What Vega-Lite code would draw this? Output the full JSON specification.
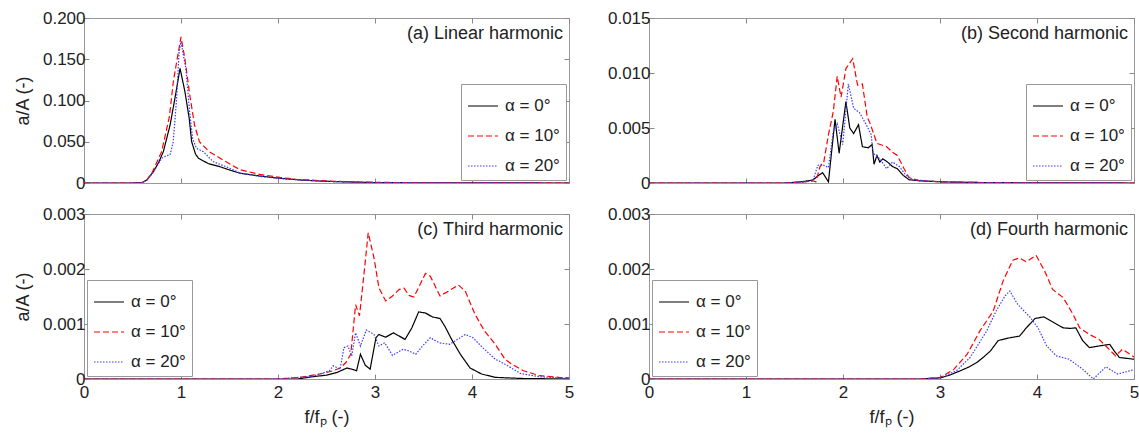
{
  "$schema": "https://vega.github.io/schema/vega-lite/v6.json",
  "background": "white",
  "padding": {"left": 13, "top": 8, "right": 3, "bottom": 3},
  "config": {
    "font": "Liberation Sans",
    "view": {"stroke": "#999", "strokeWidth": 1},
    "axis": {"labelFont": "Liberation Sans", "labelFontSize": 17, "labelColor": "#222", "titleFont": "Liberation Sans", "titleFontSize": 18, "titleColor": "#222", "titleFontWeight": "normal", "grid": false, "domain": false, "tickColor": "#888", "tickSize": -5, "labelFlush": false, "labelOverlap": false, "labelPadding": 4},
    "legend": {"orient": "bottom-right", "offset": 3, "symbolType": "stroke", "symbolSize": 900, "symbolStrokeWidth": 1.2, "strokeColor": "#999", "fillColor": "white", "padding": 6, "rowPadding": 6, "labelOffset": 6, "labelFont": "Liberation Sans", "labelFontSize": 17, "labelColor": "#222"}
  },
  "datasets": {
    "d": [
      {"p":"a","s":"0","f":0,"v":0},{"p":"a","s":"0","f":0.5,"v":0},{"p":"a","s":"0","f":0.6,"v":0.0005},{"p":"a","s":"0","f":0.65,"v":0.004},{"p":"a","s":"0","f":0.715,"v":0.0137},{"p":"a","s":"0","f":0.77,"v":0.025},{"p":"a","s":"0","f":0.818,"v":0.038},{"p":"a","s":"0","f":0.887,"v":0.07},{"p":"a","s":"0","f":0.938,"v":0.103},{"p":"a","s":"0","f":0.97,"v":0.125},{"p":"a","s":"0","f":0.99,"v":0.139},{"p":"a","s":"0","f":1.04,"v":0.111},{"p":"a","s":"0","f":1.085,"v":0.078},{"p":"a","s":"0","f":1.11,"v":0.05},{"p":"a","s":"0","f":1.15,"v":0.035},{"p":"a","s":"0","f":1.18,"v":0.03},{"p":"a","s":"0","f":1.28,"v":0.0236},{"p":"a","s":"0","f":1.4,"v":0.0198},{"p":"a","s":"0","f":1.5,"v":0.0158},{"p":"a","s":"0","f":1.61,"v":0.0118},{"p":"a","s":"0","f":1.81,"v":0.0085},{"p":"a","s":"0","f":2.02,"v":0.0057},{"p":"a","s":"0","f":2.25,"v":0.0035},{"p":"a","s":"0","f":2.5,"v":0.002},{"p":"a","s":"0","f":2.8,"v":0.001},{"p":"a","s":"0","f":3,"v":0.0006},{"p":"a","s":"0","f":3.5,"v":0.0002},{"p":"a","s":"0","f":4,"v":0.0001},{"p":"a","s":"0","f":5,"v":0},
      {"p":"a","s":"10","f":0,"v":0},{"p":"a","s":"10","f":0.5,"v":0},{"p":"a","s":"10","f":0.6,"v":0.0005},{"p":"a","s":"10","f":0.65,"v":0.004},{"p":"a","s":"10","f":0.7,"v":0.012},{"p":"a","s":"10","f":0.8,"v":0.038},{"p":"a","s":"10","f":0.88,"v":0.08},{"p":"a","s":"10","f":0.921,"v":0.123},{"p":"a","s":"10","f":0.96,"v":0.15},{"p":"a","s":"10","f":1.0,"v":0.177},{"p":"a","s":"10","f":1.04,"v":0.151},{"p":"a","s":"10","f":1.09,"v":0.107},{"p":"a","s":"10","f":1.14,"v":0.07},{"p":"a","s":"10","f":1.19,"v":0.05},{"p":"a","s":"10","f":1.29,"v":0.038},{"p":"a","s":"10","f":1.46,"v":0.026},{"p":"a","s":"10","f":1.61,"v":0.016},{"p":"a","s":"10","f":1.81,"v":0.0105},{"p":"a","s":"10","f":2.02,"v":0.0068},{"p":"a","s":"10","f":2.19,"v":0.0044},{"p":"a","s":"10","f":2.5,"v":0.0025},{"p":"a","s":"10","f":2.8,"v":0.0012},{"p":"a","s":"10","f":3,"v":0.0008},{"p":"a","s":"10","f":3.5,"v":0.0003},{"p":"a","s":"10","f":4,"v":0.0002},{"p":"a","s":"10","f":5,"v":0.0001},
      {"p":"a","s":"20","f":0,"v":0},{"p":"a","s":"20","f":0.5,"v":0},{"p":"a","s":"20","f":0.6,"v":0.0005},{"p":"a","s":"20","f":0.65,"v":0.004},{"p":"a","s":"20","f":0.715,"v":0.013},{"p":"a","s":"20","f":0.8,"v":0.03},{"p":"a","s":"20","f":0.85,"v":0.033},{"p":"a","s":"20","f":0.887,"v":0.034},{"p":"a","s":"20","f":0.92,"v":0.05},{"p":"a","s":"20","f":0.955,"v":0.103},{"p":"a","s":"20","f":0.98,"v":0.159},{"p":"a","s":"20","f":1.0,"v":0.171},{"p":"a","s":"20","f":1.05,"v":0.139},{"p":"a","s":"20","f":1.09,"v":0.085},{"p":"a","s":"20","f":1.12,"v":0.054},{"p":"a","s":"20","f":1.16,"v":0.042},{"p":"a","s":"20","f":1.23,"v":0.038},{"p":"a","s":"20","f":1.33,"v":0.026},{"p":"a","s":"20","f":1.5,"v":0.018},{"p":"a","s":"20","f":1.61,"v":0.012},{"p":"a","s":"20","f":1.81,"v":0.008},{"p":"a","s":"20","f":2.02,"v":0.0055},{"p":"a","s":"20","f":2.25,"v":0.0035},{"p":"a","s":"20","f":2.5,"v":0.002},{"p":"a","s":"20","f":2.8,"v":0.001},{"p":"a","s":"20","f":3,"v":0.0006},{"p":"a","s":"20","f":3.5,"v":0.0002},{"p":"a","s":"20","f":4,"v":0.0001},{"p":"a","s":"20","f":5,"v":0},

      {"p":"b","s":"0","f":0,"v":0},{"p":"b","s":"0","f":1.4,"v":0},{"p":"b","s":"0","f":1.56,"v":0.0001},{"p":"b","s":"0","f":1.69,"v":0.00027},{"p":"b","s":"0","f":1.74,"v":0.00064},{"p":"b","s":"0","f":1.79,"v":0.00094},{"p":"b","s":"0","f":1.85,"v":0.0001},{"p":"b","s":"0","f":1.918,"v":0.0058},{"p":"b","s":"0","f":1.96,"v":0.0027},{"p":"b","s":"0","f":2.03,"v":0.0074},{"p":"b","s":"0","f":2.07,"v":0.005},{"p":"b","s":"0","f":2.11,"v":0.0045},{"p":"b","s":"0","f":2.16,"v":0.0053},{"p":"b","s":"0","f":2.2,"v":0.0033},{"p":"b","s":"0","f":2.26,"v":0.0032},{"p":"b","s":"0","f":2.3,"v":0.0035},{"p":"b","s":"0","f":2.32,"v":0.0017},{"p":"b","s":"0","f":2.35,"v":0.0025},{"p":"b","s":"0","f":2.38,"v":0.0019},{"p":"b","s":"0","f":2.41,"v":0.0022},{"p":"b","s":"0","f":2.46,"v":0.0019},{"p":"b","s":"0","f":2.51,"v":0.0015},{"p":"b","s":"0","f":2.56,"v":0.0013},{"p":"b","s":"0","f":2.62,"v":0.0007},{"p":"b","s":"0","f":2.68,"v":0.0003},{"p":"b","s":"0","f":2.79,"v":0.0002},{"p":"b","s":"0","f":3.03,"v":0.0001},{"p":"b","s":"0","f":3.5,"v":0.00003},{"p":"b","s":"0","f":5,"v":0},
      {"p":"b","s":"10","f":0,"v":0},{"p":"b","s":"10","f":1.4,"v":0},{"p":"b","s":"10","f":1.6,"v":0.0001},{"p":"b","s":"10","f":1.69,"v":0.0002},{"p":"b","s":"10","f":1.72,"v":0.0001},{"p":"b","s":"10","f":1.763,"v":0.0015},{"p":"b","s":"10","f":1.8,"v":0.0018},{"p":"b","s":"10","f":1.85,"v":0.0044},{"p":"b","s":"10","f":1.9,"v":0.0065},{"p":"b","s":"10","f":1.94,"v":0.0097},{"p":"b","s":"10","f":1.98,"v":0.0078},{"p":"b","s":"10","f":2.03,"v":0.0104},{"p":"b","s":"10","f":2.1,"v":0.0113},{"p":"b","s":"10","f":2.15,"v":0.0089},{"p":"b","s":"10","f":2.2,"v":0.009},{"p":"b","s":"10","f":2.25,"v":0.006},{"p":"b","s":"10","f":2.28,"v":0.0054},{"p":"b","s":"10","f":2.35,"v":0.0036},{"p":"b","s":"10","f":2.45,"v":0.0033},{"p":"b","s":"10","f":2.51,"v":0.0028},{"p":"b","s":"10","f":2.56,"v":0.0025},{"p":"b","s":"10","f":2.63,"v":0.0013},{"p":"b","s":"10","f":2.68,"v":0.0005},{"p":"b","s":"10","f":2.79,"v":0.0002},{"p":"b","s":"10","f":3.03,"v":0.0001},{"p":"b","s":"10","f":3.5,"v":0.00003},{"p":"b","s":"10","f":5,"v":0},
      {"p":"b","s":"20","f":0,"v":0},{"p":"b","s":"20","f":1.4,"v":0},{"p":"b","s":"20","f":1.6,"v":0.0001},{"p":"b","s":"20","f":1.69,"v":0.0002},{"p":"b","s":"20","f":1.74,"v":0.0016},{"p":"b","s":"20","f":1.78,"v":0.0017},{"p":"b","s":"20","f":1.85,"v":0.0014},{"p":"b","s":"20","f":1.9,"v":0.0047},{"p":"b","s":"20","f":1.94,"v":0.0054},{"p":"b","s":"20","f":1.997,"v":0.0035},{"p":"b","s":"20","f":2.055,"v":0.009},{"p":"b","s":"20","f":2.11,"v":0.0068},{"p":"b","s":"20","f":2.17,"v":0.0064},{"p":"b","s":"20","f":2.24,"v":0.0053},{"p":"b","s":"20","f":2.29,"v":0.0044},{"p":"b","s":"20","f":2.31,"v":0.0027},{"p":"b","s":"20","f":2.38,"v":0.0022},{"p":"b","s":"20","f":2.45,"v":0.0013},{"p":"b","s":"20","f":2.51,"v":0.0019},{"p":"b","s":"20","f":2.58,"v":0.0015},{"p":"b","s":"20","f":2.65,"v":0.0007},{"p":"b","s":"20","f":2.72,"v":0.0003},{"p":"b","s":"20","f":2.85,"v":0.0002},{"p":"b","s":"20","f":3.03,"v":0.0001},{"p":"b","s":"20","f":3.5,"v":0.00003},{"p":"b","s":"20","f":5,"v":0},

      {"p":"c","s":"0","f":0,"v":0},{"p":"c","s":"0","f":2.2,"v":0},{"p":"c","s":"0","f":2.35,"v":0.00004},{"p":"c","s":"0","f":2.5,"v":0.00007},{"p":"c","s":"0","f":2.61,"v":0.00012},{"p":"c","s":"0","f":2.71,"v":0.0002},{"p":"c","s":"0","f":2.76,"v":0.00018},{"p":"c","s":"0","f":2.81,"v":0.00015},{"p":"c","s":"0","f":2.85,"v":0.00045},{"p":"c","s":"0","f":2.9,"v":0.00025},{"p":"c","s":"0","f":2.95,"v":0.00018},{"p":"c","s":"0","f":3.01,"v":0.00075},{"p":"c","s":"0","f":3.04,"v":0.00081},{"p":"c","s":"0","f":3.11,"v":0.00076},{"p":"c","s":"0","f":3.19,"v":0.00084},{"p":"c","s":"0","f":3.25,"v":0.00078},{"p":"c","s":"0","f":3.31,"v":0.00072},{"p":"c","s":"0","f":3.38,"v":0.00093},{"p":"c","s":"0","f":3.45,"v":0.00122},{"p":"c","s":"0","f":3.52,"v":0.0012},{"p":"c","s":"0","f":3.59,"v":0.00113},{"p":"c","s":"0","f":3.67,"v":0.0011},{"p":"c","s":"0","f":3.72,"v":0.00096},{"p":"c","s":"0","f":3.79,"v":0.00072},{"p":"c","s":"0","f":3.88,"v":0.00045},{"p":"c","s":"0","f":3.98,"v":0.0002},{"p":"c","s":"0","f":4.1,"v":0.00009},{"p":"c","s":"0","f":4.24,"v":0.00003},{"p":"c","s":"0","f":4.5,"v":0.00001},{"p":"c","s":"0","f":5,"v":0},
      {"p":"c","s":"10","f":0,"v":0},{"p":"c","s":"10","f":2.0,"v":0},{"p":"c","s":"10","f":2.23,"v":0.00003},{"p":"c","s":"10","f":2.46,"v":0.0001},{"p":"c","s":"10","f":2.57,"v":0.00015},{"p":"c","s":"10","f":2.64,"v":0.0002},{"p":"c","s":"10","f":2.7,"v":0.0003},{"p":"c","s":"10","f":2.75,"v":0.00045},{"p":"c","s":"10","f":2.8,"v":0.00135},{"p":"c","s":"10","f":2.84,"v":0.00115},{"p":"c","s":"10","f":2.88,"v":0.0018},{"p":"c","s":"10","f":2.93,"v":0.00266},{"p":"c","s":"10","f":2.99,"v":0.0022},{"p":"c","s":"10","f":3.04,"v":0.00166},{"p":"c","s":"10","f":3.11,"v":0.00142},{"p":"c","s":"10","f":3.18,"v":0.00151},{"p":"c","s":"10","f":3.25,"v":0.00163},{"p":"c","s":"10","f":3.3,"v":0.00165},{"p":"c","s":"10","f":3.35,"v":0.00152},{"p":"c","s":"10","f":3.4,"v":0.00149},{"p":"c","s":"10","f":3.46,"v":0.0017},{"p":"c","s":"10","f":3.52,"v":0.00192},{"p":"c","s":"10","f":3.57,"v":0.00187},{"p":"c","s":"10","f":3.67,"v":0.00151},{"p":"c","s":"10","f":3.76,"v":0.0016},{"p":"c","s":"10","f":3.86,"v":0.00171},{"p":"c","s":"10","f":3.93,"v":0.0016},{"p":"c","s":"10","f":4.03,"v":0.00118},{"p":"c","s":"10","f":4.13,"v":0.00087},{"p":"c","s":"10","f":4.24,"v":0.00063},{"p":"c","s":"10","f":4.34,"v":0.00036},{"p":"c","s":"10","f":4.41,"v":0.00027},{"p":"c","s":"10","f":4.53,"v":0.00015},{"p":"c","s":"10","f":4.7,"v":0.00006},{"p":"c","s":"10","f":4.9,"v":0.00003},{"p":"c","s":"10","f":5,"v":0.00002},
      {"p":"c","s":"20","f":0,"v":0},{"p":"c","s":"20","f":2.0,"v":0},{"p":"c","s":"20","f":2.36,"v":0.00005},{"p":"c","s":"20","f":2.53,"v":0.00015},{"p":"c","s":"20","f":2.57,"v":0.00024},{"p":"c","s":"20","f":2.64,"v":0.00018},{"p":"c","s":"20","f":2.68,"v":0.00057},{"p":"c","s":"20","f":2.72,"v":0.0006},{"p":"c","s":"20","f":2.76,"v":0.00042},{"p":"c","s":"20","f":2.8,"v":0.00084},{"p":"c","s":"20","f":2.85,"v":0.0006},{"p":"c","s":"20","f":2.91,"v":0.00089},{"p":"c","s":"20","f":2.99,"v":0.00081},{"p":"c","s":"20","f":3.04,"v":0.0006},{"p":"c","s":"20","f":3.1,"v":0.00066},{"p":"c","s":"20","f":3.18,"v":0.00043},{"p":"c","s":"20","f":3.29,"v":0.00054},{"p":"c","s":"20","f":3.35,"v":0.00051},{"p":"c","s":"20","f":3.42,"v":0.00045},{"p":"c","s":"20","f":3.49,"v":0.0006},{"p":"c","s":"20","f":3.57,"v":0.00075},{"p":"c","s":"20","f":3.66,"v":0.00066},{"p":"c","s":"20","f":3.77,"v":0.00063},{"p":"c","s":"20","f":3.93,"v":0.00081},{"p":"c","s":"20","f":4.01,"v":0.00075},{"p":"c","s":"20","f":4.11,"v":0.00057},{"p":"c","s":"20","f":4.24,"v":0.00036},{"p":"c","s":"20","f":4.34,"v":0.00027},{"p":"c","s":"20","f":4.5,"v":0.0001},{"p":"c","s":"20","f":4.7,"v":0.00004},{"p":"c","s":"20","f":5,"v":0.00001},

      {"p":"d","s":"0","f":0,"v":0},{"p":"d","s":"0","f":2.8,"v":0},{"p":"d","s":"0","f":3.0,"v":0.00002},{"p":"d","s":"0","f":3.1,"v":0.00007},{"p":"d","s":"0","f":3.21,"v":0.00015},{"p":"d","s":"0","f":3.3,"v":0.00022},{"p":"d","s":"0","f":3.38,"v":0.0003},{"p":"d","s":"0","f":3.45,"v":0.0004},{"p":"d","s":"0","f":3.52,"v":0.00051},{"p":"d","s":"0","f":3.6,"v":0.0007},{"p":"d","s":"0","f":3.72,"v":0.00075},{"p":"d","s":"0","f":3.82,"v":0.00078},{"p":"d","s":"0","f":3.89,"v":0.00093},{"p":"d","s":"0","f":3.98,"v":0.0011},{"p":"d","s":"0","f":4.07,"v":0.00113},{"p":"d","s":"0","f":4.15,"v":0.00105},{"p":"d","s":"0","f":4.27,"v":0.00093},{"p":"d","s":"0","f":4.34,"v":0.00092},{"p":"d","s":"0","f":4.4,"v":0.00093},{"p":"d","s":"0","f":4.47,"v":0.0007},{"p":"d","s":"0","f":4.54,"v":0.00057},{"p":"d","s":"0","f":4.64,"v":0.0006},{"p":"d","s":"0","f":4.75,"v":0.00063},{"p":"d","s":"0","f":4.8,"v":0.0005},{"p":"d","s":"0","f":4.85,"v":0.00039},{"p":"d","s":"0","f":5,"v":0.00036},
      {"p":"d","s":"10","f":0,"v":0},{"p":"d","s":"10","f":2.8,"v":0},{"p":"d","s":"10","f":3.0,"v":0.00003},{"p":"d","s":"10","f":3.14,"v":0.00017},{"p":"d","s":"10","f":3.28,"v":0.00045},{"p":"d","s":"10","f":3.41,"v":0.00087},{"p":"d","s":"10","f":3.55,"v":0.00124},{"p":"d","s":"10","f":3.65,"v":0.00178},{"p":"d","s":"10","f":3.75,"v":0.00216},{"p":"d","s":"10","f":3.82,"v":0.0022},{"p":"d","s":"10","f":3.89,"v":0.00213},{"p":"d","s":"10","f":3.99,"v":0.00225},{"p":"d","s":"10","f":4.08,"v":0.00196},{"p":"d","s":"10","f":4.16,"v":0.00163},{"p":"d","s":"10","f":4.27,"v":0.00148},{"p":"d","s":"10","f":4.37,"v":0.00118},{"p":"d","s":"10","f":4.44,"v":0.00093},{"p":"d","s":"10","f":4.54,"v":0.00081},{"p":"d","s":"10","f":4.64,"v":0.00072},{"p":"d","s":"10","f":4.71,"v":0.0006},{"p":"d","s":"10","f":4.81,"v":0.00042},{"p":"d","s":"10","f":4.88,"v":0.00054},{"p":"d","s":"10","f":5,"v":0.0004},
      {"p":"d","s":"20","f":0,"v":0},{"p":"d","s":"20","f":2.8,"v":0},{"p":"d","s":"20","f":3.0,"v":0.00002},{"p":"d","s":"20","f":3.17,"v":0.00015},{"p":"d","s":"20","f":3.31,"v":0.00039},{"p":"d","s":"20","f":3.48,"v":0.00087},{"p":"d","s":"20","f":3.58,"v":0.00124},{"p":"d","s":"20","f":3.67,"v":0.00151},{"p":"d","s":"20","f":3.72,"v":0.0016},{"p":"d","s":"20","f":3.8,"v":0.00136},{"p":"d","s":"20","f":3.93,"v":0.00112},{"p":"d","s":"20","f":4.01,"v":0.00093},{"p":"d","s":"20","f":4.1,"v":0.0006},{"p":"d","s":"20","f":4.2,"v":0.00042},{"p":"d","s":"20","f":4.33,"v":0.00036},{"p":"d","s":"20","f":4.47,"v":0.00018},{"p":"d","s":"20","f":4.58,"v":0},{"p":"d","s":"20","f":4.71,"v":0.00022},{"p":"d","s":"20","f":4.83,"v":0.00009},{"p":"d","s":"20","f":5,"v":0.00017}
    ]
  },
  "columns": 2,
  "spacing": {"row": 31, "column": 80},
  "bounds": "flush",
  "resolve": {"scale": {"y": "independent", "color": "independent", "strokeDash": "independent"}, "legend": {"color": "independent", "strokeDash": "independent"}},
  "concat": [
    {
      "width": 485, "height": 165,
      "resolve": {"axis": {"x": "independent", "y": "independent"}},
      "layer": [
        {
          "data": {"name": "d"},
          "transform": [{"filter": "datum.p == 'a'"}],
          "mark": {"type": "line", "strokeWidth": 1.2, "clip": true},
          "encoding": {
            "x": {"field": "f", "type": "quantitative", "scale": {"domain": [0, 5]}, "axis": {"orient": "bottom", "values": [0, 1, 2, 3, 4, 5], "labels": false, "title": null}},
            "y": {"field": "v", "type": "quantitative", "scale": {"domain": [0, 0.2]}, "axis": {"orient": "left", "values": [0, 0.05, 0.1, 0.15, 0.2], "labelExpr": "datum.value == 0 ? '0' : format(datum.value, '.3f')", "title": "a/A (-)", "titlePadding": 10}},
            "color": {"field": "s", "type": "nominal", "scale": {"domain": ["0", "10", "20"], "range": ["#000000", "#ff0000", "#3a3aff"]}, "legend": {"title": null, "orient": "bottom-right", "labelExpr": "'α = ' + datum.label + '°'"}},
            "strokeDash": {"field": "s", "type": "nominal", "scale": {"domain": ["0", "10", "20"], "range": [[1, 0], [6, 3], [1.5, 1.5]]}, "legend": {"title": null, "orient": "bottom-right", "labelExpr": "'α = ' + datum.label + '°'"}}
          }
        },
        {
          "data": {"values": [{"t": "(a) Linear harmonic"}]},
          "mark": {"type": "text", "align": "right", "baseline": "top", "dx": -6, "dy": 7, "fontSize": 18, "font": "Liberation Sans", "color": "#222"},
          "encoding": {
            "text": {"field": "t"},
            "x": {"datum": 5, "type": "quantitative", "scale": {"domain": [0, 5]}, "axis": {"orient": "top", "values": [0, 1, 2, 3, 4, 5], "labels": false, "title": null}},
            "y": {"datum": 0.2, "type": "quantitative", "scale": {"domain": [0, 0.2]}, "axis": {"orient": "right", "values": [0, 0.05, 0.1, 0.15, 0.2], "labels": false, "title": null}}
          }
        }
      ]
    },
    {
      "width": 485, "height": 165,
      "resolve": {"axis": {"x": "independent", "y": "independent"}},
      "layer": [
        {
          "data": {"name": "d"},
          "transform": [{"filter": "datum.p == 'b'"}],
          "mark": {"type": "line", "strokeWidth": 1.2, "clip": true},
          "encoding": {
            "x": {"field": "f", "type": "quantitative", "scale": {"domain": [0, 5]}, "axis": {"orient": "bottom", "values": [0, 1, 2, 3, 4, 5], "labels": false, "title": null}},
            "y": {"field": "v", "type": "quantitative", "scale": {"domain": [0, 0.015]}, "axis": {"orient": "left", "values": [0, 0.005, 0.01, 0.015], "labelExpr": "datum.value == 0 ? '0' : format(datum.value, '.3f')", "title": null}},
            "color": {"field": "s", "type": "nominal", "scale": {"domain": ["0", "10", "20"], "range": ["#000000", "#ff0000", "#3a3aff"]}, "legend": {"title": null, "orient": "bottom-right", "labelExpr": "'α = ' + datum.label + '°'"}},
            "strokeDash": {"field": "s", "type": "nominal", "scale": {"domain": ["0", "10", "20"], "range": [[1, 0], [6, 3], [1.5, 1.5]]}, "legend": {"title": null, "orient": "bottom-right", "labelExpr": "'α = ' + datum.label + '°'"}}
          }
        },
        {
          "data": {"values": [{"t": "(b) Second harmonic"}]},
          "mark": {"type": "text", "align": "right", "baseline": "top", "dx": -6, "dy": 7, "fontSize": 18, "font": "Liberation Sans", "color": "#222"},
          "encoding": {
            "text": {"field": "t"},
            "x": {"datum": 5, "type": "quantitative", "scale": {"domain": [0, 5]}, "axis": {"orient": "top", "values": [0, 1, 2, 3, 4, 5], "labels": false, "title": null}},
            "y": {"datum": 0.015, "type": "quantitative", "scale": {"domain": [0, 0.015]}, "axis": {"orient": "right", "values": [0, 0.005, 0.01, 0.015], "labels": false, "title": null}}
          }
        }
      ]
    },
    {
      "width": 485, "height": 165,
      "resolve": {"axis": {"x": "independent", "y": "independent"}},
      "layer": [
        {
          "data": {"name": "d"},
          "transform": [{"filter": "datum.p == 'c'"}],
          "mark": {"type": "line", "strokeWidth": 1.2, "clip": true},
          "encoding": {
            "x": {"field": "f", "type": "quantitative", "scale": {"domain": [0, 5]}, "axis": {"orient": "bottom", "values": [0, 1, 2, 3, 4, 5], "format": "d", "labelPadding": 10, "title": "f/fₚ (-)", "titlePadding": 8}},
            "y": {"field": "v", "type": "quantitative", "scale": {"domain": [0, 0.003]}, "axis": {"orient": "left", "values": [0, 0.001, 0.002, 0.003], "labelExpr": "datum.value == 0 ? '0' : format(datum.value, '.3f')", "title": "a/A (-)", "titlePadding": 10}},
            "color": {"field": "s", "type": "nominal", "scale": {"domain": ["0", "10", "20"], "range": ["#000000", "#ff0000", "#3a3aff"]}, "legend": {"title": null, "orient": "bottom-left", "labelExpr": "'α = ' + datum.label + '°'"}},
            "strokeDash": {"field": "s", "type": "nominal", "scale": {"domain": ["0", "10", "20"], "range": [[1, 0], [6, 3], [1.5, 1.5]]}, "legend": {"title": null, "orient": "bottom-left", "labelExpr": "'α = ' + datum.label + '°'"}}
          }
        },
        {
          "data": {"values": [{"t": "(c) Third harmonic"}]},
          "mark": {"type": "text", "align": "right", "baseline": "top", "dx": -6, "dy": 7, "fontSize": 18, "font": "Liberation Sans", "color": "#222"},
          "encoding": {
            "text": {"field": "t"},
            "x": {"datum": 5, "type": "quantitative", "scale": {"domain": [0, 5]}, "axis": {"orient": "top", "values": [0, 1, 2, 3, 4, 5], "labels": false, "title": null}},
            "y": {"datum": 0.003, "type": "quantitative", "scale": {"domain": [0, 0.003]}, "axis": {"orient": "right", "values": [0, 0.001, 0.002, 0.003], "labels": false, "title": null}}
          }
        }
      ]
    },
    {
      "width": 485, "height": 165,
      "resolve": {"axis": {"x": "independent", "y": "independent"}},
      "layer": [
        {
          "data": {"name": "d"},
          "transform": [{"filter": "datum.p == 'd'"}],
          "mark": {"type": "line", "strokeWidth": 1.2, "clip": true},
          "encoding": {
            "x": {"field": "f", "type": "quantitative", "scale": {"domain": [0, 5]}, "axis": {"orient": "bottom", "values": [0, 1, 2, 3, 4, 5], "format": "d", "labelPadding": 10, "title": "f/fₚ (-)", "titlePadding": 8}},
            "y": {"field": "v", "type": "quantitative", "scale": {"domain": [0, 0.003]}, "axis": {"orient": "left", "values": [0, 0.001, 0.002, 0.003], "labelExpr": "datum.value == 0 ? '0' : format(datum.value, '.3f')", "title": null}},
            "color": {"field": "s", "type": "nominal", "scale": {"domain": ["0", "10", "20"], "range": ["#000000", "#ff0000", "#3a3aff"]}, "legend": {"title": null, "orient": "bottom-left", "labelExpr": "'α = ' + datum.label + '°'"}},
            "strokeDash": {"field": "s", "type": "nominal", "scale": {"domain": ["0", "10", "20"], "range": [[1, 0], [6, 3], [1.5, 1.5]]}, "legend": {"title": null, "orient": "bottom-left", "labelExpr": "'α = ' + datum.label + '°'"}}
          }
        },
        {
          "data": {"values": [{"t": "(d) Fourth harmonic"}]},
          "mark": {"type": "text", "align": "right", "baseline": "top", "dx": -6, "dy": 7, "fontSize": 18, "font": "Liberation Sans", "color": "#222"},
          "encoding": {
            "text": {"field": "t"},
            "x": {"datum": 5, "type": "quantitative", "scale": {"domain": [0, 5]}, "axis": {"orient": "top", "values": [0, 1, 2, 3, 4, 5], "labels": false, "title": null}},
            "y": {"datum": 0.003, "type": "quantitative", "scale": {"domain": [0, 0.003]}, "axis": {"orient": "right", "values": [0, 0.001, 0.002, 0.003], "labels": false, "title": null}}
          }
        }
      ]
    }
  ]
}
